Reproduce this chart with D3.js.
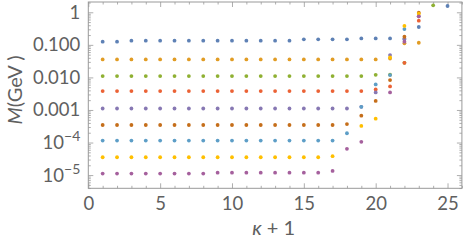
<!DOCTYPE html>
<html>
<head>
<meta charset="utf-8">
<script src="https://cdn.jsdelivr.net/npm/d3@7"></script>
<style>
  body { margin: 0; background: #fff; }
  svg { display: block; }
</style>
</head>
<body>
<svg id="chart" width="469" height="251"></svg>
<script>
// kappa+1 values where each series has points
var kVals = d3.range(1, 26);

// series values (M in GeV); null = no point
var sBlue    = [0.125,0.125,0.134,0.134,0.134,0.134,0.134,0.134,0.134,0.134,0.134,0.134,0.134,0.134,0.148,0.148,0.148,0.148,0.158,0.158,0.158,0.151,0.353,null,1.56];
var sOrange  = [0.0358,0.0358,0.0358,0.0358,0.0358,0.0358,0.0358,0.0358,0.0358,0.0358,0.0358,0.0358,0.0358,0.0358,0.0358,0.0358,0.0358,0.0358,0.0358,0.0358,0.038,0.111,0.116,null,null];
var sGreen   = [0.011,0.011,0.011,0.011,0.011,0.011,0.011,0.011,0.011,0.011,0.011,0.011,0.011,0.011,0.011,0.011,0.011,0.011,0.011,0.012,0.0121,0.028,null,1.64,null];
var sRed     = [0.0038,0.0038,0.0038,0.0038,0.0038,0.0038,0.0038,0.0038,0.0038,0.0038,0.0038,0.0038,0.0038,0.0038,0.0038,0.0038,0.0038,0.0038,0.0038,0.00427,0.00528,0.028,0.552,null,null];
var sPurple  = [0.00111,0.00111,0.00111,0.00111,0.00111,0.00111,0.00111,0.00111,0.00111,0.00111,0.00111,0.00111,0.00111,0.00111,0.00111,0.00111,0.00111,0.00111,0.00125,0.00345,0.0485,0.151,0.753,null,null];
var sBrown   = [3.45e-4,3.45e-4,3.45e-4,3.45e-4,3.45e-4,3.45e-4,3.45e-4,3.45e-4,3.45e-4,3.45e-4,3.45e-4,3.45e-4,3.45e-4,3.45e-4,3.45e-4,3.45e-4,3.45e-4,3.7e-4,6.7e-4,1.9e-3,8.3e-3,0.177,0.97,null,null];
var sLtBlue  = [1.15e-4,1.15e-4,1.15e-4,1.15e-4,1.15e-4,1.15e-4,1.15e-4,1.15e-4,1.15e-4,1.15e-4,1.15e-4,1.15e-4,1.15e-4,1.15e-4,1.15e-4,1.15e-4,1.15e-4,1.93e-4,1.25e-3,6.1e-3,0.0118,0.306,null,null,null];
var sYellow  = [3.53e-5,3.53e-5,3.53e-5,3.53e-5,3.53e-5,3.53e-5,3.53e-5,3.53e-5,3.53e-5,3.53e-5,3.53e-5,3.53e-5,3.53e-5,3.53e-5,3.53e-5,3.53e-5,3.8e-5,null,3.24e-4,5.4e-4,0.0412,0.38,0.906,null,null];
var sMagenta = [1.11e-5,1.11e-5,1.11e-5,1.11e-5,1.11e-5,1.11e-5,1.11e-5,1.11e-5,1.19e-5,1.19e-5,1.19e-5,1.19e-5,1.19e-5,1.19e-5,1.19e-5,1.19e-5,1.34e-5,6.4e-5,1.05e-4,null,3.46e-3,0.125,0.753,null,null];

var seriesList = [sBlue, sOrange, sGreen, sRed, sPurple, sBrown, sLtBlue, sYellow, sMagenta];
var colors = ['#5e81b5','#e19c24','#8fb032','#eb6235','#8778b3','#c56e1a','#5d9ec7','#ffbf00','#a5609d'];

var xTicks = [0, 5, 10, 15, 20, 25];
var yTicks = [1, 0.1, 0.01, 0.001, 1e-4, 1e-5];
var yTickLabels = [['1'], ['0.100'], ['0.010'], ['0.001'], ['10', '\u22124'], ['10', '\u22125']];

var svg = d3.select('#chart');
var pLeft = 88.3, pRight = 461.9, pTop = 2, pBottom = 188.3;
var frameColor = '#999', labelColor = '#606060';
var font = 'Lato, "Open Sans", sans-serif';

var x = d3.scaleLinear().domain([0, 26]).range([pLeft, pRight]);
var y = d3.scaleLog().domain([3.93e-6, 2.07]).range([pBottom, pTop]);

var xMinor = d3.range(0, 27).filter(function(v){ return v % 5 !== 0; });
var yMinor = [];
d3.range(-6, 1).forEach(function(e){
    d3.range(2, 10).forEach(function(m){
        var v = m * Math.pow(10, e);
        if (v >= y.domain()[0] && v <= y.domain()[1]) yMinor.push(v);
    });
});

function styleAxis(g){
    g.select('.domain').remove();
    g.selectAll('line').attr('stroke', frameColor).attr('stroke-width', 0.8);
}

// minor ticks
svg.append('g').attr('transform', 'translate(0,' + pBottom + ')')
    .call(d3.axisBottom(x).tickValues(xMinor).tickSize(-2.5).tickFormat(''))
    .call(styleAxis);
svg.append('g').attr('transform', 'translate(0,' + pTop + ')')
    .call(d3.axisTop(x).tickValues(xMinor).tickSize(-2.5).tickFormat(''))
    .call(styleAxis);
svg.append('g').attr('transform', 'translate(' + pLeft + ',0)')
    .call(d3.axisLeft(y).tickValues(yMinor).tickSize(-2.5).tickFormat(''))
    .call(styleAxis);
svg.append('g').attr('transform', 'translate(' + pRight + ',0)')
    .call(d3.axisRight(y).tickValues(yMinor).tickSize(-2.5).tickFormat(''))
    .call(styleAxis);

// major ticks
var gx = svg.append('g').attr('transform', 'translate(0,' + pBottom + ')')
    .call(d3.axisBottom(x).tickValues(xTicks).tickSize(-5).tickPadding(9).tickFormat(d3.format('d')))
    .call(styleAxis);
gx.selectAll('text').attr('fill', labelColor).style('font-size', '18.5px').style('font-family', font);
svg.append('g').attr('transform', 'translate(0,' + pTop + ')')
    .call(d3.axisTop(x).tickValues(xTicks).tickSize(-5).tickFormat(''))
    .call(styleAxis);
svg.append('g').attr('transform', 'translate(' + pLeft + ',0)')
    .call(d3.axisLeft(y).tickValues(yTicks).tickSize(-5).tickFormat(''))
    .call(styleAxis);
svg.append('g').attr('transform', 'translate(' + pRight + ',0)')
    .call(d3.axisRight(y).tickValues(yTicks).tickSize(-5).tickFormat(''))
    .call(styleAxis);

// y tick labels with superscripts
yTicks.forEach(function(v, i){
    var t = svg.append('text')
        .attr('x', pLeft - 8).attr('y', y(v) + 6.5)
        .attr('text-anchor', 'end')
        .attr('fill', labelColor)
        .style('font-family', font).style('font-size', '18.5px');
    var parts = yTickLabels[i];
    t.append('tspan').text(parts[0]);
    if (parts.length > 1) {
        t.append('tspan').attr('dy', -8).style('font-size', '14px').text(parts[1]);
    }
});

// frame
svg.append('rect')
    .attr('x', pLeft).attr('y', pTop)
    .attr('width', pRight - pLeft).attr('height', pBottom - pTop)
    .attr('fill', 'none').attr('stroke', frameColor).attr('stroke-width', 1);

// points
seriesList.forEach(function(s, i){
    svg.append('g').selectAll('circle')
        .data(kVals.map(function(k, j){ return [k, s[j]]; }).filter(function(d){ return d[1] != null; }))
        .join('circle')
        .attr('cx', function(d){ return x(d[0]); })
        .attr('cy', function(d){ return y(d[1]); })
        .attr('r', 1.9)
        .attr('fill', colors[i]);
});

// axis titles
svg.append('text')
    .attr('x', x(12.9)).attr('y', 235)
    .attr('text-anchor', 'middle')
    .attr('fill', labelColor)
    .style('font-family', font).style('font-size', '20px')
    .html('<tspan font-style="italic">\u03ba</tspan> + 1');

svg.append('text')
    .attr('transform', 'translate(22,90) rotate(-90)')
    .attr('text-anchor', 'middle')
    .attr('fill', labelColor)
    .style('font-family', font).style('font-size', '20px')
    .html('<tspan font-style="italic">M</tspan>(GeV )');
</script>
</body>
</html>
